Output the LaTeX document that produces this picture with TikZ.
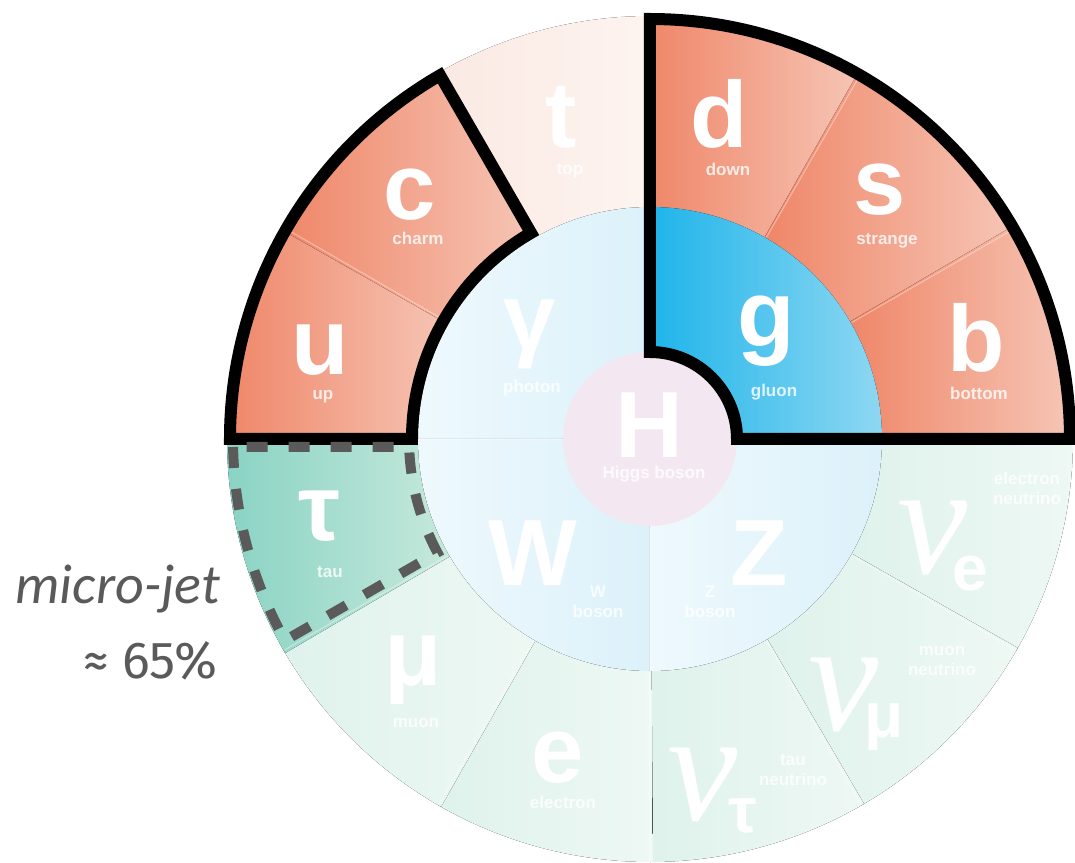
\documentclass[tikz,border=0pt]{standalone}
\usepackage{fontspec}
\setmainfont{Liberation Sans}
\newfontfamily\nufont{Liberation Serif}
\newfontfamily\notefont{Carlito}
\newfontfamily\sharefont{Fira Sans}
\usepackage{xcolor}
\usepackage{tikz}

% cell colours (dark = left edge, light = right edge)
\definecolor{quarkdark}{RGB}{239,134,104}
\definecolor{quarklight}{RGB}{246,198,182}
\definecolor{topdark}{RGB}{251,233,227}
\definecolor{toplight}{RGB}{253,244,240}
\definecolor{gluondark}{RGB}{30,180,234}
\definecolor{gluonlight}{RGB}{142,215,242}
\definecolor{taudark}{RGB}{138,211,196}
\definecolor{taulight}{RGB}{198,233,219}
\definecolor{leptondark}{RGB}{223,242,236}
\definecolor{leptonlight}{RGB}{238,248,244}
\definecolor{bosondark}{RGB}{220,241,250}
\definecolor{bosonlight}{RGB}{238,249,253}
\definecolor{higgs}{RGB}{243,232,242}
\definecolor{notegray}{RGB}{90,90,90}

\begin{document}
\begin{tikzpicture}[x=1bp,y=1bp,
    sym/.style={text=white,inner sep=0pt,anchor=base,
      font=\bfseries\fontsize{94bp}{94bp}\selectfont},
    tag/.style={text=white,text opacity=.8,inner sep=0pt,anchor=base,align=center,
      font=\bfseries\fontsize{17bp}{20bp}\selectfont},
    nu/.style={text=white,inner sep=0pt,anchor=base,
      font=\nufont\itshape\fontsize{158bp}{158bp}\selectfont},
    nusub/.style={text=white,inner sep=0pt,anchor=base,
      font=\bfseries\fontsize{64bp}{64bp}\selectfont},
    seam/.style={white,opacity=.35,line width=1.2bp},
    quarkbox/.style={draw=black,line width=12bp,line join=miter},
    taubox/.style={draw=notegray,line width=10bp,dash pattern=on 21bp off 21bp},
    note/.style={text=notegray,inner sep=0pt,anchor=base east}]
  \useasboundingbox (-650,-424) rectangle (425,439);

  % outer ring: quarks on top, leptons below (each cell runs a bit into the next)
  \foreach \from/\to/\lc/\rc in {150/180/quarkdark/quarklight,120/150/quarkdark/quarklight,
      90/120/topdark/toplight,60/90/quarkdark/quarklight,30/60/quarkdark/quarklight,
      0/30/quarkdark/quarklight,-30/0/leptondark/leptonlight,-60/-30/leptondark/leptonlight,
      -90/-60/leptondark/leptonlight,-120/-90/leptondark/leptonlight,
      -150/-120/leptondark/leptonlight,180/210/taudark/taulight}
    \fill[left color=\lc,right color=\rc] (\from:230) arc[start angle=\from,end angle=\to+.4,radius=230]
      -- (\to+.4:423) arc[start angle=\to+.4,end angle=\from,radius=423] -- cycle;

  % inner ring: gauge bosons
  \foreach \from/\to/\lc/\rc in {0/90/gluondark/gluonlight,90/180/bosonlight/bosondark,
      180/270/bosonlight/bosondark,270/360/bosonlight/bosondark}
    \fill[left color=\lc,right color=\rc] (\from:85) arc[start angle=\from,end angle=\to+.3,radius=85]
      -- (\to+.3:232) arc[start angle=\to+.3,end angle=\from,radius=232] -- cycle;

  % faint seams between the cells
  \foreach \a in {30,60,...,330}
    \draw[seam] (\a:233) -- (\a:422);
  \foreach \a in {90,180,270}
    \draw[seam] (\a:88) -- (\a:231);

  % Higgs in the middle
  \fill[higgs] (0,0) circle[radius=87];

  % outlines
  \draw[quarkbox] (0,420) -- (0,87) arc[start angle=90,end angle=0,radius=87]
    -- (420,0) arc[start angle=0,end angle=90,radius=420] -- cycle;
  \draw[quarkbox] (180:420) arc[start angle=180,end angle=120,radius=420]
    -- (120:238) arc[start angle=120,end angle=180,radius=238] -- cycle;
  \draw[taubox] (181.1:417) arc[start angle=181.1,end angle=208.9,radius=417]
    -- (208.1:241) arc[start angle=208.1,end angle=181.9,radius=241] -- cycle;

  % quarks
  \node[sym] (u) at (-330,64) {u};
  \node[tag] (u-name) at (-327,39) {up};
  \node[sym] (c) at (-240,219) {c};
  \node[tag] (c-name) at (-232,194) {charm};
  \node[sym] (t) at (-89,291) {t};
  \node[tag] (t-name) at (-80,264) {top};
  \node[sym] (d) at (69,291) {d};
  \node[tag] (d-name) at (78,263) {down};
  \node[sym] (s) at (230,224) {s};
  \node[tag] (s-name) at (237,194) {strange};
  \node[sym] (b) at (326,67) {b};
  \node[tag] (b-name) at (329,39) {bottom};

  % bosons
  \node[sym] (g) at (116,92) {g};
  \node[tag] (g-name) at (124,42) {gluon};
  \node[sym] (gamma) at (-120,89) {γ};
  \node[tag] (gamma-name) at (-118,46) {photon};
  \node[sym] (h) at (-1,-19) {H};
  \node[tag] (h-name) at (4,-40) {Higgs boson};
  \node[sym] (w) at (-117,-146) {W};
  \node[tag] (w-name) at (-52,-178) {W\\boson};
  \node[sym] (z) at (109,-146) {Z};
  \node[tag] (z-name) at (60,-178) {Z\\boson};

  % charged leptons
  \node[sym] (tau) at (-331,-101) {τ};
  \node[tag] (tau-name) at (-320,-138) {tau};
  \node[sym] (mu) at (-237,-246) {μ};
  \node[tag] (mu-name) at (-234,-288) {muon};
  \node[sym] (e) at (-92,-343) {e};
  \node[tag] (e-name) at (-87,-369) {electron};

  % neutrinos
  \node[nu] (nue) at (283,-134) {ν};
  \node[nusub] (nue-sub) at (320,-151) {e};
  \node[tag] (nue-name) at (377,-66) {electron\\neutrino};
  \node[nu] (numu) at (194,-291) {ν};
  \node[nusub] (numu-sub) at (234,-298) {μ};
  \node[tag] (numu-name) at (292,-236) {muon\\neutrino};
  \node[nu] (nutau) at (53,-381) {ν};
  \node[nusub] (nutau-sub) at (93,-393) {τ};
  \node[tag] (nutau-name) at (143,-346) {tau\\neutrino};

  % tau decay note
  \node[note,font=\notefont\itshape\fontsize{56bp}{56bp}\selectfont] (jet) at (-430,-164) {micro-jet};
  \node[note,font=\sharefont\fontsize{52bp}{52bp}\selectfont] (share) at (-432,-239) {≈ 65\%};
\end{tikzpicture}
\end{document}
